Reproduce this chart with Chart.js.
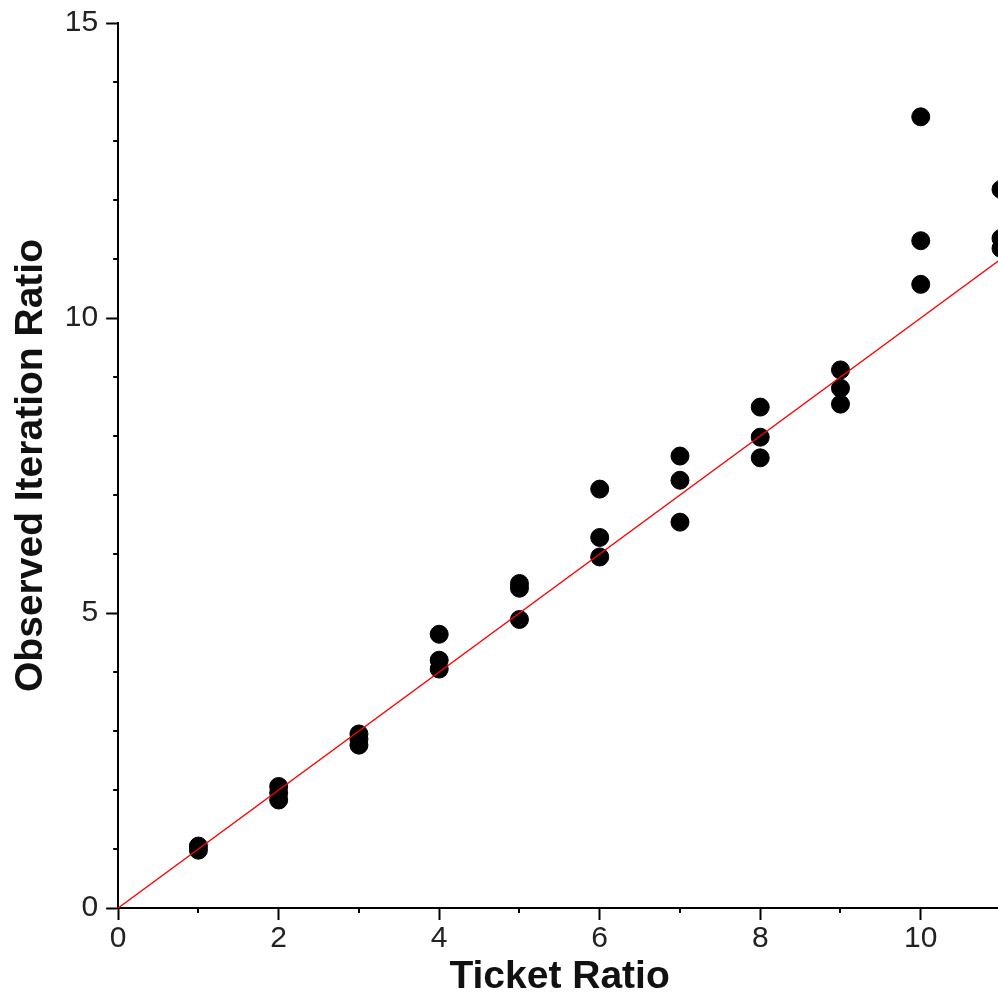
<!DOCTYPE html>
<html>
<head>
<meta charset="utf-8">
<script src="https://cdn.jsdelivr.net/npm/chart.js@4/dist/chart.umd.min.js"></script>
<style>
  html, body { margin: 0; padding: 0; background: #fff; overflow: hidden; }
  #wrap { width: 1011px; height: 997px; }
</style>
</head>
<body>
<div id="wrap"><canvas id="chart"></canvas></div>
<script>
const ticketRatio = [1, 1, 2, 2, 2, 3, 3, 3, 4, 4, 4, 5, 5, 5, 6, 6, 6, 7, 7, 7, 8, 8, 8, 9, 9, 9, 10, 10, 10, 11, 11, 11];
const observedRatio = [1.05, 0.98, 2.06, 1.95, 1.83, 2.95, 2.86, 2.76, 4.64, 4.2, 4.05, 5.5, 5.42, 4.89,
  7.1, 6.28, 5.95, 7.66, 7.25, 6.54, 8.49, 7.98, 7.63, 9.12, 8.81, 8.54, 13.41, 11.31, 10.57, 12.18, 11.35, 11.18];
const idealX = [0, 11];
const idealY = [0, 11];

const xTitle = 'Ticket Ratio';
const yTitle = 'Observed Iteration Ratio';

// short minor ticks every 1 unit, majors come from chart.js
const minorTicks = {
  id: 'minorTicks',
  afterDraw(chart) {
    const ctx = chart.ctx;
    const xs = chart.scales.x, ys = chart.scales.y;
    const area = chart.chartArea;
    ctx.save();
    ctx.strokeStyle = '#000';
    ctx.lineWidth = 2;
    ctx.beginPath();
    for (let v = Math.ceil(xs.min); v <= xs.max; v++) {
      if (v % 2 === 0) continue;
      const px = Math.round(xs.getPixelForValue(v));
      ctx.moveTo(px, area.bottom);
      ctx.lineTo(px, area.bottom + 5);
    }
    for (let v = Math.ceil(ys.min); v <= ys.max; v++) {
      if (v % 5 === 0) continue;
      const py = Math.round(ys.getPixelForValue(v));
      ctx.moveTo(area.left, py);
      ctx.lineTo(area.left - 5, py);
    }
    ctx.stroke();
    ctx.restore();
  }
};

new Chart(document.getElementById('chart'), {
  data: {
    datasets: [{
      type: 'line',
      data: idealX.map((x, i) => ({ x: x, y: idealY[i] })),
      borderColor: '#ff0000',
      borderWidth: 1.5,
      pointRadius: 0,
      clip: false
    }, {
      type: 'scatter',
      data: ticketRatio.map((x, i) => ({ x: x, y: observedRatio[i] })),
      backgroundColor: '#000',
      borderColor: '#000',
      pointRadius: 9,
      clip: false
    }]
  },
  options: {
    responsive: true,
    maintainAspectRatio: false,
    animation: false,
    layout: { padding: { top: 2, left: 8, right: 0, bottom: 0 } },
    plugins: { legend: { display: false }, tooltip: { enabled: false } },
    scales: {
      x: {
        type: 'linear',
        min: 0,
        max: 11,
        border: { display: true, color: '#000', width: 2 },
        grid: { drawOnChartArea: false, drawTicks: true, tickLength: 12, tickColor: '#000', tickWidth: 2 },
        ticks: {
          stepSize: 2,
          color: '#222',
          padding: 1,
          maxRotation: 0,
          font: { family: 'Liberation Sans', size: 30 },
          callback: v => (v > 10 ? '' : v)
        },
        afterBuildTicks: axis => { axis.ticks = axis.ticks.filter(t => t.value <= 10); },
        title: {
          display: true,
          text: xTitle,
          color: '#111',
          padding: { top: 0, bottom: 0 },
          font: { family: 'Liberation Sans', size: 39, weight: 'bold', lineHeight: 1.0 }
        }
      },
      y: {
        type: 'linear',
        min: 0,
        max: 15,
        border: { display: true, color: '#000', width: 2 },
        grid: { drawOnChartArea: false, drawTicks: true, tickLength: 12, tickColor: '#000', tickWidth: 2 },
        ticks: {
          stepSize: 5,
          color: '#222',
          padding: 8,
          font: { family: 'Liberation Sans', size: 30, lineHeight: 1.0 }
        },
        title: {
          display: true,
          text: yTitle,
          color: '#111',
          padding: { top: 0, bottom: 2 },
          font: { family: 'Liberation Sans', size: 39, weight: 'bold' }
        }
      }
    }
  },
  plugins: [minorTicks]
});
</script>
</body>
</html>
